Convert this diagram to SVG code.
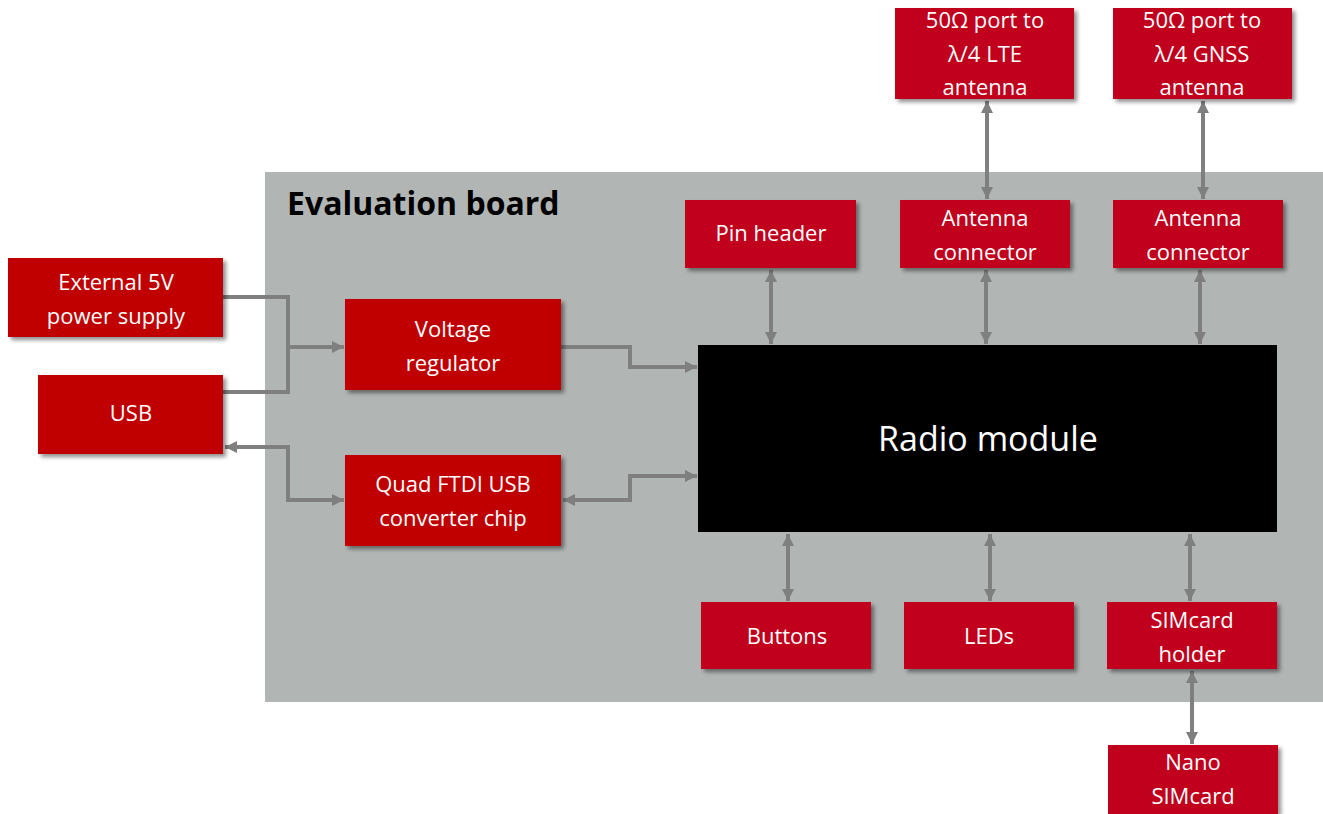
<svg xmlns="http://www.w3.org/2000/svg" width="1323" height="814" viewBox="0 0 1323 814">
<style>
.r1{fill:#C00000}
.r2{fill:#C0001F}
.t{font-family:"Open Sans","Liberation Sans",sans-serif;font-size:22px;fill:#fff;text-anchor:middle}
.c{fill:none;stroke:#7F7F7F;stroke-width:4}
</style>
<defs>
<filter id="sh" x="-10%" y="-10%" width="125%" height="130%">
<feGaussianBlur in="SourceAlpha" stdDeviation="2"/>
<feOffset dx="3" dy="3" result="b"/>
<feComponentTransfer><feFuncA type="linear" slope="0.45"/></feComponentTransfer>
<feMerge><feMergeNode/><feMergeNode in="SourceGraphic"/></feMerge>
</filter>
<marker id="ah" markerUnits="userSpaceOnUse" markerWidth="14" markerHeight="14" refX="12" refY="6" orient="auto-start-reverse">
<path d="M0,0 L12,6 L0,12 z" fill="#7F7F7F"/>
</marker>
</defs>
<rect width="1323" height="814" fill="#fff"/>
<g id="board">
<rect x="265" y="172" width="1058" height="530" fill="#B1B6B4"/>
<text x="287" y="215" font-family="'Open Sans','Liberation Sans',sans-serif" font-size="32" font-weight="bold" fill="#000">Evaluation board</text>
</g>
<g id="connectors">
<path class="c" d="M223,297 H288 V392 H223"/>
<path class="c" d="M288,347 H344" marker-end="url(#ah)"/>
<path class="c" d="M561,347 H630 V367 H697" marker-end="url(#ah)"/>
<path class="c" d="M225,447 H288 V500 H344" marker-start="url(#ah)" marker-end="url(#ah)"/>
<path class="c" d="M563,500 H630 V476 H697" marker-start="url(#ah)" marker-end="url(#ah)"/>
<path class="c" d="M771,270 V344" marker-start="url(#ah)" marker-end="url(#ah)"/>
<path class="c" d="M986,270 V344" marker-start="url(#ah)" marker-end="url(#ah)"/>
<path class="c" d="M1200,270 V344" marker-start="url(#ah)" marker-end="url(#ah)"/>
<path class="c" d="M987,101 V199" marker-start="url(#ah)" marker-end="url(#ah)"/>
<path class="c" d="M1203,101 V199" marker-start="url(#ah)" marker-end="url(#ah)"/>
<path class="c" d="M788,534 V601" marker-start="url(#ah)" marker-end="url(#ah)"/>
<path class="c" d="M990,534 V601" marker-start="url(#ah)" marker-end="url(#ah)"/>
<path class="c" d="M1190,534 V601" marker-start="url(#ah)" marker-end="url(#ah)"/>
<path class="c" d="M1192,671 V744" marker-start="url(#ah)" marker-end="url(#ah)"/>
</g>
<g id="ext5v"><rect class="r1" x="8" y="258" width="215" height="79" filter="url(#sh)"/><text class="t" x="116" y="290">External 5V</text><text class="t" x="116" y="324">power supply</text></g>
<g id="usb"><rect class="r1" x="38" y="375" width="185" height="79" filter="url(#sh)"/><text class="t" x="131" y="421">USB</text></g>
<g id="vreg"><rect class="r1" x="345" y="299" width="216" height="91" filter="url(#sh)"/><text class="t" x="453" y="337">Voltage</text><text class="t" x="453" y="371">regulator</text></g>
<g id="ftdi"><rect class="r1" x="345" y="455" width="216" height="91" filter="url(#sh)"/><text class="t" x="453" y="492">Quad FTDI USB</text><text class="t" x="453" y="526">converter chip</text></g>
<g id="radio"><rect x="698" y="345" width="579" height="187" fill="#000"/><text x="988" y="451" font-family="'Open Sans','Liberation Sans',sans-serif" font-size="34" fill="#fff" text-anchor="middle">Radio module</text></g>
<g id="pinheader"><rect class="r2" x="685" y="200" width="171" height="68" filter="url(#sh)"/><text class="t" x="771" y="241">Pin header</text></g>
<g id="antconn1"><rect class="r2" x="900" y="200" width="170" height="68" filter="url(#sh)"/><text class="t" x="985" y="226">Antenna</text><text class="t" x="985" y="260">connector</text></g>
<g id="antconn2"><rect class="r2" x="1113" y="200" width="170" height="68" filter="url(#sh)"/><text class="t" x="1198" y="226">Antenna</text><text class="t" x="1198" y="260">connector</text></g>
<g id="lte"><rect class="r2" x="895" y="8" width="179" height="91" filter="url(#sh)"/><text class="t" x="985" y="28">50Ω port to</text><text class="t" x="985" y="62">λ/4 LTE</text><text class="t" x="985" y="95">antenna</text></g>
<g id="gnss"><rect class="r2" x="1113" y="8" width="179" height="91" filter="url(#sh)"/><text class="t" x="1202" y="28">50Ω port to</text><text class="t" x="1202" y="62">λ/4 GNSS</text><text class="t" x="1202" y="95">antenna</text></g>
<g id="buttons"><rect class="r2" x="701" y="602" width="170" height="67" filter="url(#sh)"/><text class="t" x="787" y="644">Buttons</text></g>
<g id="leds"><rect class="r2" x="904" y="602" width="170" height="67" filter="url(#sh)"/><text class="t" x="989" y="644">LEDs</text></g>
<g id="simholder"><rect class="r2" x="1107" y="602" width="170" height="67" filter="url(#sh)"/><text class="t" x="1192" y="628">SIMcard</text><text class="t" x="1192" y="662">holder</text></g>
<g id="nano"><rect class="r2" x="1108" y="745" width="170" height="69" filter="url(#sh)"/><text class="t" x="1193" y="770">Nano</text><text class="t" x="1193" y="804">SIMcard</text></g>
</svg>
